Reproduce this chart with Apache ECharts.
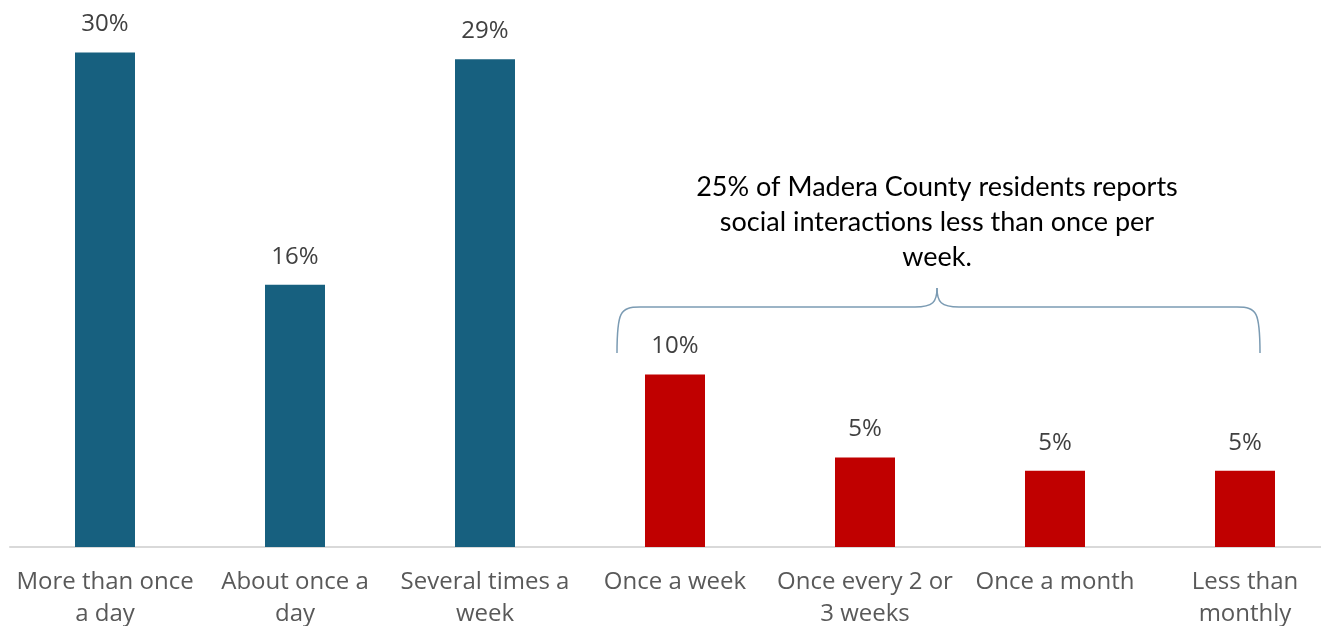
<!DOCTYPE html>
<html>
<head>
<meta charset="utf-8">
<script src="https://cdn.jsdelivr.net/npm/echarts@6/dist/echarts.min.js"></script>
<style>html,body{margin:0;padding:0;background:#fff;}#c{width:1321px;height:626px;}</style>
</head>
<body>
<div id="c"></div>
<script>
const categories = ['More than once\na day', 'About once a\nday', 'Several times a\nweek', 'Once a week', 'Once every 2 or\n3 weeks', 'Once a month', 'Less than\nmonthly'];
const values = [29.8, 15.8, 29.4, 10.4, 5.4, 4.6, 4.6];
const barColors = ['#17607f', '#17607f', '#17607f', '#c00000', '#c00000', '#c00000', '#c00000'];
const noteLines = ['25% of Madera County residents reports', 'social interactions less than once per', 'week.'];

const chart = echarts.init(document.getElementById('c'), null, {renderer: 'canvas'});
const braceStyle = {stroke: '#7b9bb3', lineWidth: 1.5, fill: null};
const braceParts = [
  {type: 'bezierCurve', shape: {x1: 617, y1: 353, cpx1: 617, cpy1: 312, cpx2: 620, cpy2: 307, x2: 640, y2: 307}},
  {type: 'line', shape: {x1: 640, y1: 307, x2: 915, y2: 307}},
  {type: 'bezierCurve', shape: {x1: 915, y1: 307, cpx1: 933, cpy1: 307, cpx2: 937, cpy2: 302, x2: 937, y2: 288}},
  {type: 'bezierCurve', shape: {x1: 937, y1: 288, cpx1: 937, cpy1: 302, cpx2: 941, cpy2: 307, x2: 959, y2: 307}},
  {type: 'line', shape: {x1: 959, y1: 307, x2: 1237, y2: 307}},
  {type: 'bezierCurve', shape: {x1: 1237, y1: 307, cpx1: 1257, cpy1: 307, cpx2: 1260, cpy2: 312, x2: 1260, y2: 353}}
].map(p => Object.assign(p, {style: braceStyle, silent: true}));

const option = {
  animation: false,
  backgroundColor: '#ffffff',
  grid: {left: 10, right: -19, top: 16, bottom: 79, outerBoundsMode: 'none', containLabel: false},
  xAxis: {
    type: 'category',
    data: categories,
    axisLine: {lineStyle: {color: '#d9d9d9', width: 2}},
    axisTick: {show: false},
    axisLabel: {
      interval: 0, margin: 19, color: '#595959', fontSize: 24, lineHeight: 32,
      fontFamily: 'Open Sans'
    }
  },
  yAxis: {type: 'value', min: 0, max: 32, show: false, splitLine: {show: false}},
  series: [{
    type: 'bar',
    barWidth: 60,
    data: values.map((v, i) => ({value: v, itemStyle: {color: barColors[i]}})),
    label: {
      show: true, position: 'top', distance: 16, color: '#404040', fontSize: 24,
      fontFamily: 'Open Sans',
      formatter: p => Math.round(p.value) + '%'
    }
  }],
  graphic: [
    ...braceParts,
    ...noteLines.map((t, i) => ({
      type: 'text', x: 937, y: 187 + i * 35,
      style: {text: t, fill: '#000', font: '27px Lato', textAlign: 'center', textVerticalAlign: 'middle'}
    }))
  ]
};
chart.setOption(option);
</script>
</body>
</html>
